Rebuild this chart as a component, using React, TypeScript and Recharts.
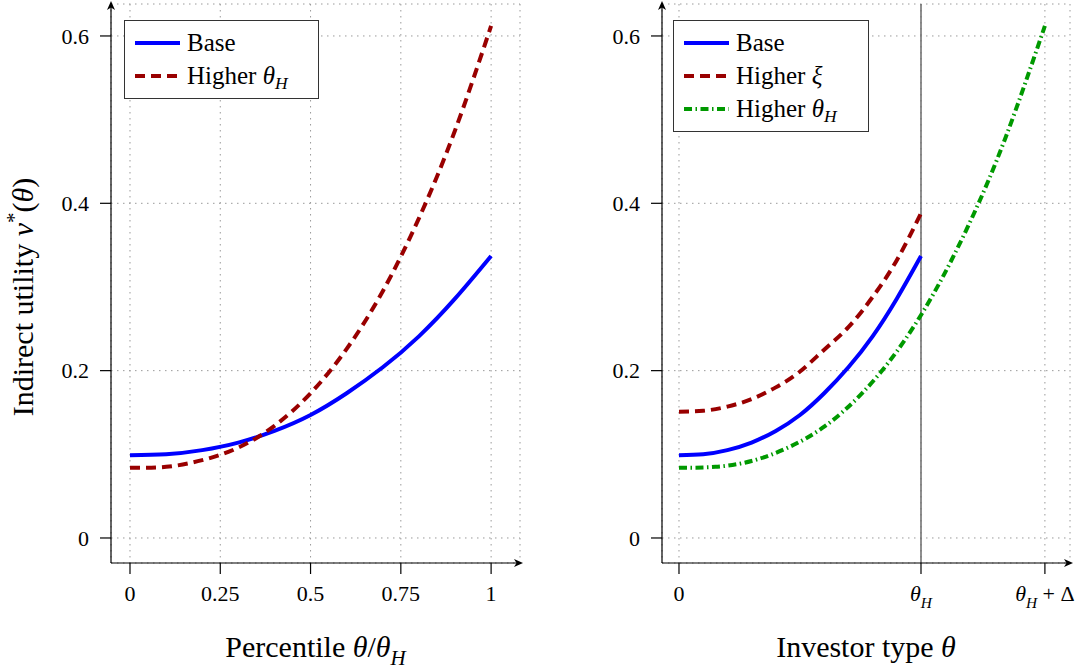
import React from "react";
import {
  LineChart,
  Line,
  XAxis,
  YAxis,
  CartesianGrid,
  ReferenceLine,
  ReferenceDot,
  Legend,
} from "recharts";

const FONT = '"Liberation Serif", "Times New Roman", serif';

// ---------- Left panel data ----------
const percentile = [0, 0.1, 0.2, 0.3, 0.4, 0.5, 0.6, 0.7, 0.8, 0.9, 1];
const baseUtility = [0.099, 0.1, 0.105, 0.114, 0.128, 0.147, 0.173, 0.204, 0.241, 0.286, 0.337];
const higherThetaUtility = [0.084, 0.085, 0.093, 0.108, 0.134, 0.173, 0.226, 0.295, 0.382, 0.487, 0.612];

// ---------- Right panel data ----------
const investorType = [0, 0.1, 0.2, 0.3, 0.4, 0.5, 0.6, 0.7, 0.8, 0.9, 1];
const baseTypeUtility = [0.099, 0.1, 0.105, 0.114, 0.128, 0.147, 0.173, 0.204, 0.241, 0.286, 0.337];
const higherXiUtility = [0.151, 0.152, 0.157, 0.166, 0.18, 0.199, 0.225, 0.252, 0.288, 0.332, 0.388];
const extendedType = [0, 0.15, 0.3, 0.45, 0.6, 0.75, 0.9, 1.05, 1.2, 1.35, 1.512];
const higherThetaTypeUtility = [0.084, 0.085, 0.092, 0.108, 0.133, 0.171, 0.223, 0.291, 0.376, 0.479, 0.612];

// ---------- Ticks ----------
const leftXTicks = [0, 0.25, 0.5, 0.75, 1];
const leftXTickLabels = ["0", "0.25", "0.5", "0.75", "1"];
const thetaH = 1;
const rightXTicks = [0, 1, 1.512];
const rightXTickLabels = ["0", "$θ_H$", "$θ_H + Δ$"];
const yTicks = [0, 0.2, 0.4, 0.6];
const yTickLabels = ["0", "0.2", "0.4", "0.6"];

// ---------- Texts ----------
const leftXTitle = "Percentile $θ/θ_H$";
const rightXTitle = "Investor type $θ$";
const yTitle = "Indirect utility $v^*(θ)$";
const leftLegendNames = ["Base", "Higher $θ_H$"];
const rightLegendNames = ["Base", "Higher $ξ$", "Higher $θ_H$"];

// ---------- Domains ----------
const leftXDomain: [number, number] = [-0.0526, 1.08];
const rightXDomain: [number, number] = [-0.0702, 1.6157];
const yDomain: [number, number] = [-0.0299, 0.6382];

// ---------- Styles ----------
const BLUE = "#0000ff";
const RED = "#990000";
const GREEN = "#009900";
const LW = 4;
const RED_DASH = "10 6";
const GREEN_DASH = "8 3.5 1.5 3.5";

const zip = (xs: number[], ys: number[]) => xs.map((x, i) => ({ x, y: ys[i] }));

const leftBase = zip(percentile, baseUtility);
const leftHigher = zip(percentile, higherThetaUtility);
const rightBase = zip(investorType, baseTypeUtility);
const rightXi = zip(investorType, higherXiUtility);
const rightHigher = zip(extendedType, higherThetaTypeUtility);

type Tok = { t: string; it: boolean; sh: number };
function tokenize(s: string): Tok[] {
  const out: Tok[] = [];
  const parts = s.split("$");
  parts.forEach((part, i) => {
    if (i % 2 === 0) {
      if (part) out.push({ t: part, it: false, sh: 0 });
      return;
    }
    for (let k = 0; k < part.length; k++) {
      const c = part[k];
      if ((c === "_" || c === "^") && k + 1 < part.length) {
        const n = part[k + 1];
        k++;
        out.push({ t: n, it: /[A-Za-zθξ]/.test(n), sh: c === "_" ? 1 : -1 });
      } else {
        out.push({ t: c, it: /[A-Za-zθξ]/.test(c), sh: 0 });
      }
    }
  });
  return out;
}

function svgMath(s: string, size: number) {
  const toks = tokenize(s);
  let cur = 0;
  return toks.map((tk, i) => {
    const target = tk.sh === 1 ? size * 0.28 : tk.sh === -1 ? -size * 0.4 : 0;
    const dy = target - cur;
    cur = target;
    return (
      <tspan
        key={i}
        dy={dy}
        fontStyle={tk.it ? "italic" : "normal"}
        fontSize={tk.sh ? size * 0.7 : size}
      >
        {tk.t}
      </tspan>
    );
  });
}

function htmlMath(s: string) {
  return tokenize(s).map((tk, i) => (
    <span
      key={i}
      style={{
        fontStyle: tk.it ? "italic" : "normal",
        fontSize: tk.sh ? "0.7em" : "1em",
        position: "relative",
        top: tk.sh === 1 ? "0.3em" : tk.sh === -1 ? "-0.45em" : 0,
      }}
    >
      {tk.t}
    </span>
  ));
}

const makeXTick = (ticks: number[], labels: string[]) => (props: any) => {
  const { x, y, payload } = props;
  const idx = ticks.findIndex((t) => Math.abs(t - payload.value) < 1e-6);
  const label = idx >= 0 ? labels[idx] : String(payload.value);
  const size = 22;
  return (
    <text
      x={x}
      y={y + 0.7 * size}
      textAnchor="middle"
      fill="#000"
      fontFamily={FONT}
      fontSize={size}
      style={{ whiteSpace: "pre", fontFamily: FONT }}
    >
      {svgMath(label, size)}
    </text>
  );
};

const XTitle = (props: any) => {
  const vb = props.viewBox || { x: 0, y: 563, width: 409, height: 107 };
  const size = 30;
  return (
    <text
      x={vb.x + vb.width / 2}
      y={vb.y + 94}
      textAnchor="middle"
      fill="#000"
      fontFamily={FONT}
      fontSize={size}
      style={{ whiteSpace: "pre", fontFamily: FONT }}
    >
      {svgMath(props.text, size)}
    </text>
  );
};

const YTitle = (props: any) => {
  const size = 30;
  const cx = 33;
  const cy = 297;
  return (
    <text
      x={cx}
      y={cy}
      textAnchor="middle"
      fill="#000"
      fontFamily={FONT}
      fontSize={size}
      transform={`rotate(-90, ${cx}, ${cy})`}
      style={{ whiteSpace: "pre", fontFamily: FONT }}
    >
      {svgMath(props.text, size)}
    </text>
  );
};

const ArrowRight = (p: any) => (
  <path
    d={`M ${p.cx + 3} ${p.cy} L ${p.cx - 6} ${p.cy - 4} L ${p.cx - 3.5} ${p.cy} L ${p.cx - 6} ${p.cy + 4} Z`}
    fill="#000"
  />
);
const ArrowUp = (p: any) => (
  <path
    d={`M ${p.cx} ${p.cy - 3} L ${p.cx - 4} ${p.cy + 6} L ${p.cx} ${p.cy + 3.5} L ${p.cx + 4} ${p.cy + 6} Z`}
    fill="#000"
  />
);

type LegendItem = { name: string; color: string; dash?: string };

const LegendBox = ({ items, width }: { items: LegendItem[]; width: number }) => (
  <div
    style={{
      boxSizing: "border-box",
      width,
      border: "1.4px solid #333",
      background: "#fff",
      padding: "5px 0 6px 10px",
      fontFamily: FONT,
      fontSize: 25,
      color: "#000",
      lineHeight: 1,
    }}
  >
    {items.map((it, i) => (
      <div key={i} style={{ height: 33, display: "flex", alignItems: "center", whiteSpace: "pre" }}>
        <svg width={45} height={10} style={{ marginRight: 7, flex: "none" }}>
          <line x1={0} y1={5} x2={45} y2={5} stroke={it.color} strokeWidth={LW} strokeDasharray={it.dash} />
        </svg>
        <span>{htmlMath(it.name)}</span>
      </div>
    ))}
  </div>
);

const axisLineStyle = { stroke: "#000", strokeWidth: 1.2 };
const tickLineStyle = { stroke: "#000", strokeWidth: 1.2 };
const yTickStyle = { fill: "#000", fontSize: 22, fontFamily: FONT };
const yFormatter = (v: number) => {
  const idx = yTicks.findIndex((t) => Math.abs(t - v) < 1e-6);
  return idx >= 0 ? yTickLabels[idx] : String(v);
};

export default function App() {
  const leftItems: LegendItem[] = [
    { name: leftLegendNames[0], color: BLUE },
    { name: leftLegendNames[1], color: RED, dash: RED_DASH },
  ];
  const rightItems: LegendItem[] = [
    { name: rightLegendNames[0], color: BLUE },
    { name: rightLegendNames[1], color: RED, dash: RED_DASH },
    { name: rightLegendNames[2], color: GREEN, dash: GREEN_DASH },
  ];
  return (
    <div
      style={{
        position: "absolute",
        left: 0,
        top: 0,
        width: 1089,
        height: 670,
        background: "#fff",
        fontFamily: FONT,
      }}
    >
      <div style={{ position: "absolute", left: 0, top: 0 }}>
        <LineChart width={545} height={670} margin={{ top: 4, right: 25, bottom: 0, left: 0 }} style={{ fontFamily: FONT }}>
          <CartesianGrid stroke="#9a9a9a" strokeWidth={1} strokeDasharray="1.5 4.5" />
          <XAxis
            type="number"
            dataKey="x"
            domain={leftXDomain}
            ticks={leftXTicks}
            allowDataOverflow
            interval={0}
            height={107}
            tickSize={11}
            tickMargin={12}
            axisLine={axisLineStyle}
            tickLine={tickLineStyle}
            tick={makeXTick(leftXTicks, leftXTickLabels)}
            label={<XTitle text={leftXTitle} />}
          />
          <YAxis
            type="number"
            domain={yDomain}
            ticks={yTicks}
            allowDataOverflow
            interval={0}
            width={111}
            tickSize={11}
            tickMargin={11}
            axisLine={axisLineStyle}
            tickLine={tickLineStyle}
            tick={yTickStyle}
            tickFormatter={yFormatter}
            label={<YTitle text={yTitle} />}
          />
          <Line data={leftBase} dataKey="y" type="natural" stroke={BLUE} strokeWidth={LW} dot={false} isAnimationActive={false} />
          <Line data={leftHigher} dataKey="y" type="natural" stroke={RED} strokeWidth={LW} strokeDasharray={RED_DASH} dot={false} isAnimationActive={false} />
          <ReferenceDot x={leftXDomain[1]} y={yDomain[0]} r={0} ifOverflow="visible" shape={ArrowRight} />
          <ReferenceDot x={leftXDomain[0]} y={yDomain[1]} r={0} ifOverflow="visible" shape={ArrowUp} />
          <Legend
            layout="vertical"
            align="center"
            verticalAlign="middle"
            wrapperStyle={{ left: 124, top: 20, width: 195 }}
            content={() => <LegendBox items={leftItems} width={195} />}
          />
        </LineChart>
      </div>
      <div style={{ position: "absolute", left: 550, top: 0 }}>
        <LineChart width={539} height={670} margin={{ top: 4, right: 19, bottom: 0, left: 0 }} style={{ fontFamily: FONT }}>
          <CartesianGrid stroke="#9a9a9a" strokeWidth={1} strokeDasharray="1.5 4.5" />
          <XAxis
            type="number"
            dataKey="x"
            domain={rightXDomain}
            ticks={rightXTicks}
            allowDataOverflow
            interval={0}
            height={107}
            tickSize={11}
            tickMargin={12}
            axisLine={axisLineStyle}
            tickLine={tickLineStyle}
            tick={makeXTick(rightXTicks, rightXTickLabels)}
            label={<XTitle text={rightXTitle} />}
          />
          <YAxis
            type="number"
            domain={yDomain}
            ticks={yTicks}
            allowDataOverflow
            interval={0}
            width={112}
            tickSize={11}
            tickMargin={11}
            axisLine={axisLineStyle}
            tickLine={tickLineStyle}
            tick={yTickStyle}
            tickFormatter={yFormatter}
          />
          <ReferenceLine x={thetaH} stroke="#6b6b6b" strokeWidth={1.5} />
          <Line data={rightBase} dataKey="y" type="natural" stroke={BLUE} strokeWidth={LW} dot={false} isAnimationActive={false} />
          <Line data={rightXi} dataKey="y" type="natural" stroke={RED} strokeWidth={LW} strokeDasharray={RED_DASH} dot={false} isAnimationActive={false} />
          <Line data={rightHigher} dataKey="y" type="natural" stroke={GREEN} strokeWidth={LW} strokeDasharray={GREEN_DASH} dot={false} isAnimationActive={false} />
          <ReferenceDot x={rightXDomain[1]} y={yDomain[0]} r={0} ifOverflow="visible" shape={ArrowRight} />
          <ReferenceDot x={rightXDomain[0]} y={yDomain[1]} r={0} ifOverflow="visible" shape={ArrowUp} />
          <Legend
            layout="vertical"
            align="center"
            verticalAlign="middle"
            wrapperStyle={{ left: 123, top: 20, width: 196 }}
            content={() => <LegendBox items={rightItems} width={196} />}
          />
        </LineChart>
      </div>
    </div>
  );
}
